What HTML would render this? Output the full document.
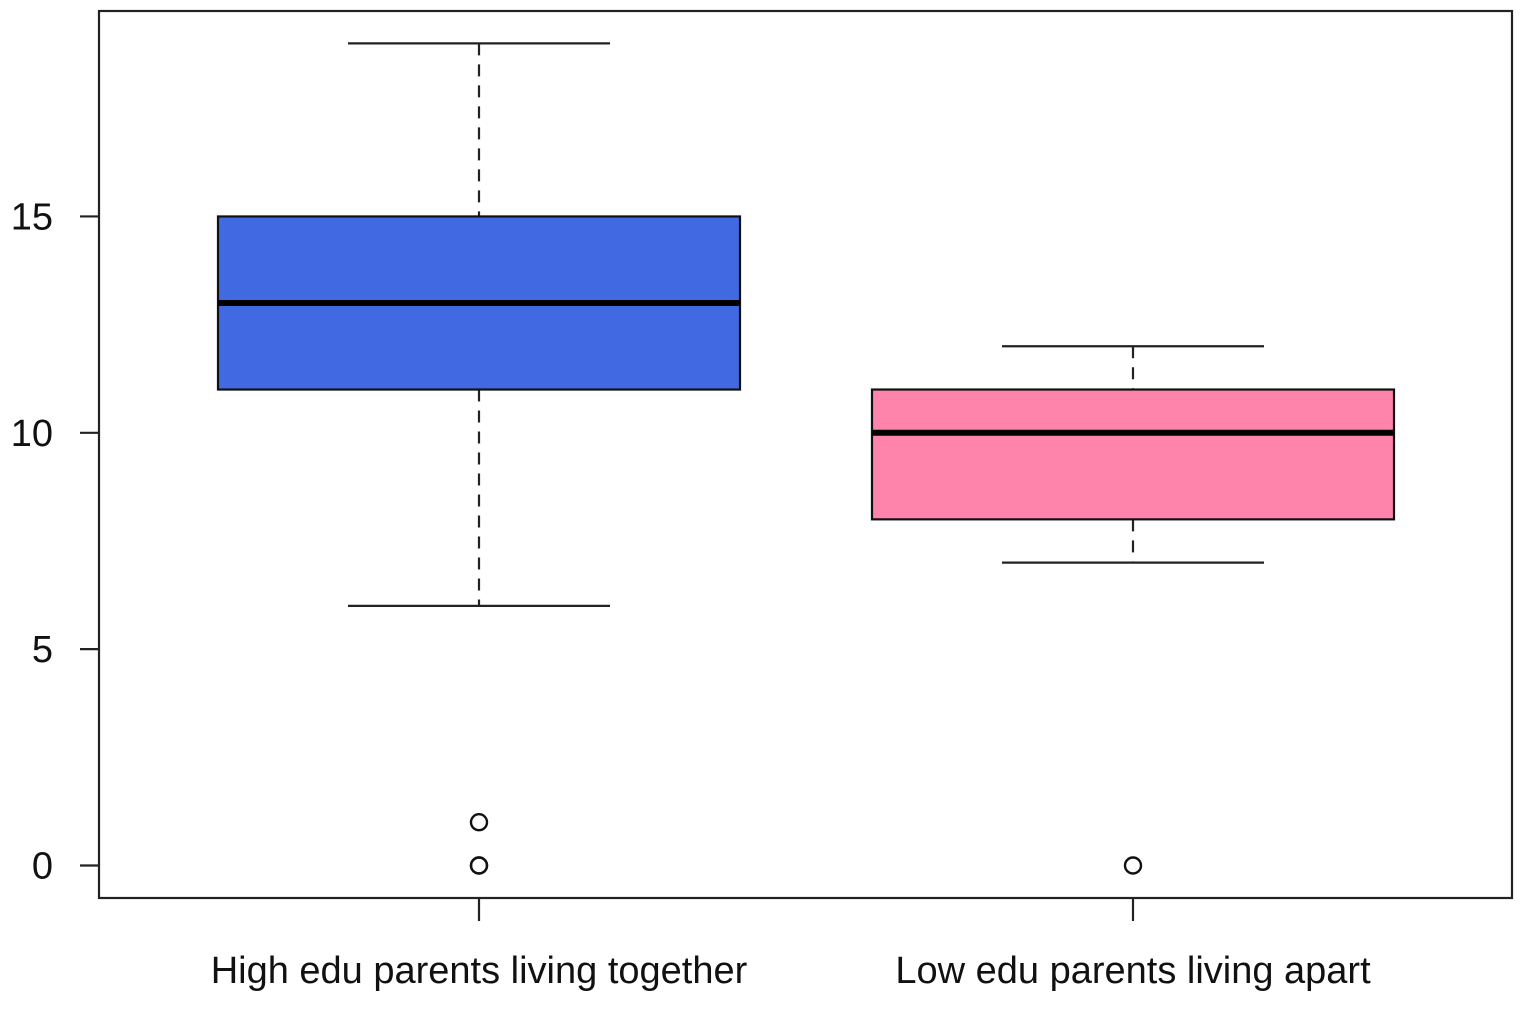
<!DOCTYPE html>
<html><head><meta charset="utf-8"><style>
html,body{margin:0;padding:0;background:#fff;}
svg{display:block;font-family:"Liberation Sans",Arial,sans-serif;}
</style></head><body>
<svg id="chart" width="1530" height="1010" viewBox="0 0 1530 1010">
<rect x="99" y="11" width="1413" height="887" fill="none" stroke="#222" stroke-width="2.2"/>
<g id="yaxis"></g>
<g id="xaxis"></g>
<g id="boxes"></g>
</svg>
<script>
const categories = ["High edu parents living together","Low edu parents living apart"];
const q1Values = [11, 8];
const medianValues = [13, 10];
const q3Values = [15, 11];
const lowWhiskers = [6, 7];
const highWhiskers = [19, 12];
const outliers = [[1, 0, 0], [0]];
const fills = ["#4169E1", "#FF84AC"];
const yTicks = [0, 5, 10, 15];

const NS = "http://www.w3.org/2000/svg";
function y(v){ return 865.5 - v * 43.27; }
function x(i){ return 479 + i * 654; }
function mk(parent, tag, attrs){
  const e = document.createElementNS(NS, tag);
  for (const k in attrs) e.setAttribute(k, attrs[k]);
  parent.appendChild(e); return e;
}
const ya = document.getElementById('yaxis');
yTicks.forEach(t => {
  const l = mk(ya, 'line', {x1:80, x2:99, y1:y(t), y2:y(t), stroke:'#222', 'stroke-width':2.2});
  
  
  const tx = mk(ya, 'text', {x:53, y:y(t)+13, 'text-anchor':'end', 'font-size':38, fill:'#111'});
  tx.textContent = t;
  
  
});
const xa = document.getElementById('xaxis');
categories.forEach((c, i) => {
  const l = mk(xa, 'line', {x1:x(i), x2:x(i), y1:898, y2:921, stroke:'#222', 'stroke-width':2.2});
  
  
  const tx = mk(xa, 'text', {x:x(i), y:983, 'text-anchor':'middle', 'font-size':38, fill:'#111'});
  tx.textContent = c;
  
  
});
const bx = document.getElementById('boxes');
const halfBox = 261, halfCap = 131;
categories.forEach((c, i) => {
  const cx = x(i);
  const g = mk(bx, 'g', {});
  
  
  mk(g, 'line', {x1:cx, x2:cx, y1:y(highWhiskers[i]), y2:y(q3Values[i]), stroke:'#222', 'stroke-width':2.2, 'stroke-dasharray':'12,9'});
  mk(g, 'line', {x1:cx, x2:cx, y1:y(q1Values[i]), y2:y(lowWhiskers[i]), stroke:'#222', 'stroke-width':2.2, 'stroke-dasharray':'12,9'});
  mk(g, 'line', {x1:cx-halfCap, x2:cx+halfCap, y1:y(highWhiskers[i]), y2:y(highWhiskers[i]), stroke:'#222', 'stroke-width':2.2});
  mk(g, 'line', {x1:cx-halfCap, x2:cx+halfCap, y1:y(lowWhiskers[i]), y2:y(lowWhiskers[i]), stroke:'#222', 'stroke-width':2.2});
  mk(g, 'rect', {x:cx-halfBox, y:y(q3Values[i]), width:halfBox*2, height:y(q1Values[i])-y(q3Values[i]), fill:fills[i], stroke:'#111', 'stroke-width':2.2});
  mk(g, 'line', {x1:cx-halfBox, x2:cx+halfBox, y1:y(medianValues[i]), y2:y(medianValues[i]), stroke:'#000', 'stroke-width':6});
  outliers[i].forEach(v => {
    const o = mk(g, 'circle', {cx:cx, cy:y(v), r:8, fill:'none', stroke:'#111', 'stroke-width':2.4});
    
    
  });
});
</script>
</body></html>
